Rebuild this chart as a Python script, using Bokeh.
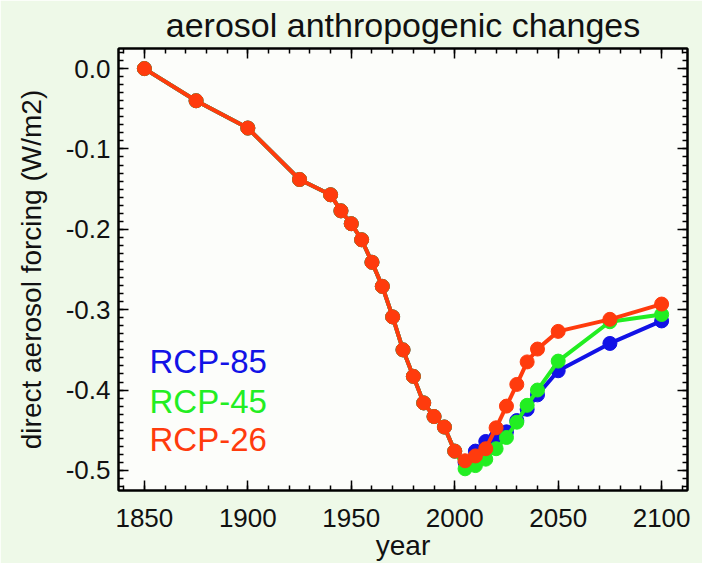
from bokeh.plotting import figure
from bokeh.models import (LinearAxis, Range1d, SingleIntervalTicker, Label, Title,
                          CustomJSTickFormatter)
from bokeh.embed import file_html
from bokeh.resources import INLINE

# ---- data ----
hist_years = [1850, 1875, 1900, 1925, 1940, 1945, 1950, 1955, 1960, 1965, 1970,
              1975, 1980, 1985, 1990, 1995, 2000]
hist_vals = [0.0, -0.040, -0.074, -0.138, -0.157, -0.177, -0.193, -0.213, -0.241,
             -0.271, -0.309, -0.350, -0.383, -0.416, -0.433, -0.446, -0.476]
fut_years = [2005, 2010, 2015, 2020, 2025, 2030, 2035, 2040, 2050, 2075, 2100]
rcp85 = [-0.490, -0.476, -0.464, -0.458, -0.452, -0.438, -0.424, -0.406, -0.376, -0.342, -0.314]
rcp45 = [-0.498, -0.494, -0.486, -0.473, -0.459, -0.440, -0.419, -0.400, -0.364, -0.315, -0.306]
rcp26 = [-0.488, -0.482, -0.473, -0.447, -0.420, -0.393, -0.365, -0.349, -0.327, -0.312, -0.293]
series_names = ["RCP-85", "RCP-45", "RCP-26"]
series_colors = ["#1212e6", "#22ee22", "#ff3b0d"]

FONT = "Liberation Sans"

p = figure(width=702, height=563, output_backend="svg", toolbar_location=None,
           x_range=Range1d(1837.5, 2112.5), y_range=Range1d(-0.525, 0.025),
           min_border_left=118, min_border_right=15, min_border_top=48,
           min_border_bottom=72)
p.title = Title(text="aerosol anthropogenic changes", text_font=FONT,
                text_font_size="34px", text_font_style="normal", align="center",
                vertical_align="top", text_color="#111111", standoff=6)
p.border_fill_color = "#eef9e8"
p.background_fill_color = "#fcfdfa"
p.outline_line_color = "black"
p.outline_line_width = 2
p.grid.visible = False

def style(ax, labels=True):
    ax.axis_line_width = 2
    ax.axis_line_color = "black"
    ax.major_tick_in = 10
    ax.major_tick_out = 0
    ax.minor_tick_in = 5
    ax.minor_tick_out = 0
    ax.major_tick_line_width = 1.5
    ax.minor_tick_line_width = 1.5
    ax.major_label_text_font = FONT
    ax.major_label_text_font_size = "26px"
    ax.major_label_text_color = "#111111"
    ax.axis_label_text_font = FONT
    ax.axis_label_text_font_size = "28px"
    ax.axis_label_text_font_style = "normal"
    ax.axis_label_text_color = "#111111"
    ax.major_label_standoff = 8
    ax.axis_label_standoff = 2
    if not labels:
        ax.formatter = CustomJSTickFormatter(code="return '';")
        ax.major_label_standoff = 0
        ax.major_label_text_font_size = "1px"

p.xaxis.ticker = SingleIntervalTicker(interval=50, num_minor_ticks=5)
p.yaxis.ticker = SingleIntervalTicker(interval=0.1, num_minor_ticks=10)
p.xaxis.axis_label = "year"
p.yaxis.axis_label = "direct aerosol forcing (W/m2)"
p.yaxis.formatter = CustomJSTickFormatter(code="return tick.toFixed(1);")
style(p.xaxis[0])
style(p.yaxis[0])
p.xaxis[0].major_label_standoff = 18
p.xaxis[0].axis_label_standoff = 0
p.yaxis[0].axis_label_standoff = 16

top = LinearAxis(ticker=SingleIntervalTicker(interval=50, num_minor_ticks=5))
right = LinearAxis(ticker=SingleIntervalTicker(interval=0.1, num_minor_ticks=10))
style(top, labels=False)
style(right, labels=False)
p.add_layout(top, "above")
p.add_layout(right, "right")

for name, vals, col in zip(series_names, [rcp85, rcp45, rcp26], series_colors):
    xs = hist_years + fut_years
    ys = hist_vals + vals
    p.line(xs, ys, line_color=col, line_width=4)
    p.scatter(xs, ys, size=14, fill_color=col, line_color=col)

leg_y = [-0.364, -0.414, -0.462]
for name, col, yv in zip(series_names, series_colors, leg_y):
    p.add_layout(Label(x=1852.5, y=yv, text=name, text_color=col,
                       text_font=FONT, text_font_size="33px",
                       text_baseline="alphabetic"))

open("out.html", "w").write(file_html(p, INLINE))
